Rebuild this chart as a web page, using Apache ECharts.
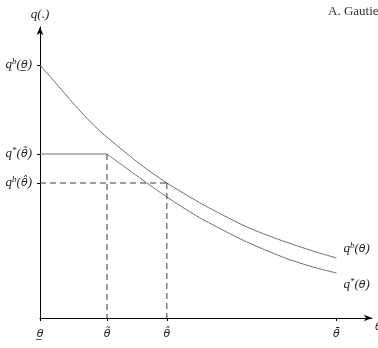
<!DOCTYPE html>
<html><head><meta charset="utf-8">
<script src="https://cdn.jsdelivr.net/npm/echarts@6/dist/echarts.min.js"></script>
<style>html,body{margin:0;padding:0;background:#fff}#c{width:378px;height:348px}</style>
</head><body><div id="c"></div>
<script>
// Upper curve q^b(theta)
var qbX = [0, 6.75, 13.5, 20.2, 27.0, 33.7, 42.8, 52.3, 58.4, 69.8, 81.0, 92.1, 100];
var qbY = [253, 230, 207, 187, 170, 154, 135, 118, 108, 91, 78, 67, 60];
// Lower curve q*(theta): flat part then decreasing part
var qsFlatX = [0, 22.6];
var qsFlatY = [164, 164];
var qsX = [22.6, 33.7, 42.8, 52.3, 58.4, 69.8, 82.7, 92.1, 100];
var qsY = [164, 140, 121, 103, 93, 76, 60, 51, 45];
// Tick positions and labels
var xTickValues = [0, 22.6, 42.8, 100];
var xTickLabels = ['{th|\u03B8\u0332}', '{th|\u03B8\u0303}', '{th|\u03B8\u0302}', '{th|\u03B8\u0304}'];
var yTickValues = [253, 164, 135];
var yTickLabels = [
  '{i|q}{sup|b}{i|(}{th|\u03B8\u0332}{i|)}',
  '{i|q}{sup|*}{i|(}{th|\u03B8\u0303}{i|)}',
  '{i|q}{sup|b}{i|(}{th|\u03B8\u0302}{i|)}'
];
// Reference dashed guides
var thetaTilde = 22.6, thetaHat = 42.8;
var qStarTilde = 164, qbHat = 135;

function zip(xs, ys){ return xs.map(function(x,i){ return [x, ys[i]]; }); }
var serif = 'Liberation Serif';
var rich = {
  i: {fontFamily: serif, fontStyle: 'italic', fontSize: 13, color: '#222'},
  th: {fontFamily: 'DejaVu Sans', fontStyle: 'italic', fontSize: 11, color: '#222'},
  sup: {fontFamily: serif, fontStyle: 'italic', fontSize: 9, color: '#222', verticalAlign: 'top', padding: [0,0,7,0]}
};
var chart = echarts.init(document.getElementById('c'), null, {renderer: 'canvas'});
var dash = {color: '#3a3a3a', width: 1, type: [6, 4]};
chart.setOption({
  animation: false,
  title: {text: 'A. Gautier', left: 323, top: 0, textStyle: {fontFamily: serif, fontSize: 13, fontWeight: 'normal', color: '#333'}},
  grid: {left: 40, right: 6, top: 27, bottom: 30, containLabel: false, outerBoundsMode: 'none'},
  xAxis: {
    type: 'value', min: 0, max: 112,
    name: '\u03B8', nameLocation: 'end', nameGap: 3,
    nameTextStyle: {fontFamily: 'DejaVu Sans', fontStyle: 'italic', fontSize: 11, color: '#222', verticalAlign: 'top', padding: [4,0,0,0]},
    axisLine: {lineStyle: {color: '#000', width: 1}, symbol: ['none', 'arrow'], symbolSize: [5, 8]},
    axisTick: {show: true, customValues: xTickValues, length: 3, lineStyle: {color: '#000'}},
    axisLabel: {customValues: xTickValues, margin: 11, rich: rich,
      formatter: function(v){ var k = xTickValues.indexOf(v); return k >= 0 ? xTickLabels[k] : ''; }},
    splitLine: {show: false}
  },
  yAxis: {
    type: 'value', min: 0, max: 291,
    name: '{i|q(.)}', nameLocation: 'end', nameGap: 6,
    nameTextStyle: {rich: rich, align: 'center', padding: [0,0,0,0]},
    axisLine: {show: true, lineStyle: {color: '#000', width: 1}, symbol: ['none', 'arrow'], symbolSize: [5, 8]},
    axisTick: {show: true, customValues: yTickValues, length: 3, lineStyle: {color: '#000'}},
    axisLabel: {customValues: yTickValues, margin: 8, rich: rich,
      formatter: function(v){ var k = yTickValues.indexOf(v); return k >= 0 ? yTickLabels[k] : ''; }},
    splitLine: {show: false}
  },
  series: [
    {type: 'line', data: zip(qbX, qbY), smooth: 0.3, showSymbol: false, symbol: 'none',
      lineStyle: {color: '#707070', width: 1},
      endLabel: {show: true, formatter: '{i|q}{sup|b}{i|(}{th|\u03B8}{i|)}', rich: rich, offset: [-1, -9]}},
    {type: 'line', data: zip(qsFlatX, qsFlatY), showSymbol: false, symbol: 'none',
      lineStyle: {color: '#707070', width: 1}},
    {type: 'line', data: zip(qsX, qsY), smooth: 0.3, showSymbol: false, symbol: 'none',
      lineStyle: {color: '#707070', width: 1},
      endLabel: {show: true, formatter: '{i|q}{sup|*}{i|(}{th|\u03B8}{i|)}', rich: rich, offset: [-1, 12]}},
    {type: 'line', data: [[thetaTilde, qStarTilde], [thetaTilde, 0]], showSymbol: false, symbol: 'none', lineStyle: dash},
    {type: 'line', data: [[thetaHat, qbHat], [thetaHat, 0]], showSymbol: false, symbol: 'none', lineStyle: dash},
    {type: 'line', data: [[0, qbHat], [thetaHat, qbHat]], showSymbol: false, symbol: 'none', lineStyle: dash}
  ]
});
</script></body></html>
